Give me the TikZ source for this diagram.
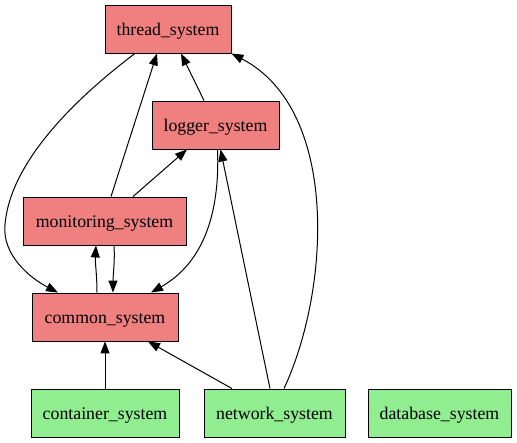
\documentclass[tikz,border=0pt]{standalone}
\usepackage{fontspec}
\setmainfont{Liberation Serif}
\usetikzlibrary{arrows.meta}
\definecolor{redfill}{HTML}{F08080}
\definecolor{greenfill}{HTML}{90EE90}
\begin{document}
\begin{tikzpicture}[x=1pt,y=-1pt,
  box/.style={draw=black,line width=0.9pt,rectangle,minimum height=48pt,inner sep=0pt,text height=14pt,text depth=0pt,font=\fontsize{17.8}{20}\selectfont},
  redbox/.style={box,fill=redfill},
  greenbox/.style={box,fill=greenfill},
  dep/.style={draw=black,line width=1pt,-{Triangle[length=12pt,width=9pt]}}]
\useasboundingbox (0,0) rectangle (517,443);
\node[redbox,minimum width=126pt] (thread) at (168,29) {thread\_system};
\node[redbox,minimum width=127pt] (logger) at (215.5,125) {logger\_system};
\node[redbox,minimum width=163pt] (monitoring) at (104.5,221) {monitoring\_system};
\node[redbox,minimum width=146pt] (common) at (105,317) {common\_system};
\node[greenbox,minimum width=148pt] (container) at (105,413) {container\_system};
\node[greenbox,minimum width=141pt] (network) at (274.5,413) {network\_system};
\node[greenbox,minimum width=143pt] (database) at (439.5,413) {database\_system};
\coordinate (bend) at (5,225);
% edges
\draw[dep] ([xshift=-33pt]thread.south) .. controls (80,95) and (10,160) .. (bend) .. controls (2,255) and (30,278) .. ([xshift=-47pt]common.north);
\draw[dep] ([xshift=6.5pt]monitoring.north) -- ([xshift=-11pt]thread.south);
\draw[dep] ([xshift=-11.5pt]logger.north) -- ([xshift=13pt]thread.south);
\draw[dep] ([xshift=28.5pt]monitoring.north) -- ([xshift=-28.5pt]logger.south);
\draw[dep] ([xshift=2pt]logger.south) .. controls (220,210) and (205,262) .. ([xshift=46pt]common.north);
\draw[dep] ([xshift=-8pt]common.north) .. controls (97,275) and (95,262) .. ([xshift=-8.5pt]monitoring.south);
\draw[dep] ([xshift=9.5pt]monitoring.south) .. controls (115,262) and (113,275) .. ([xshift=8pt]common.north);
\draw[dep] (container.north) -- (common.south);
\draw[dep] ([xshift=-42.5pt]network.north) -- ([xshift=43pt]common.south);
\draw[dep] ([xshift=-4.5pt]network.north) -- ([xshift=5pt]logger.south);
\draw[dep] ([xshift=9.5pt]network.north) .. controls (330,290) and (340,110) .. (thread.south east);
\end{tikzpicture}
\end{document}
